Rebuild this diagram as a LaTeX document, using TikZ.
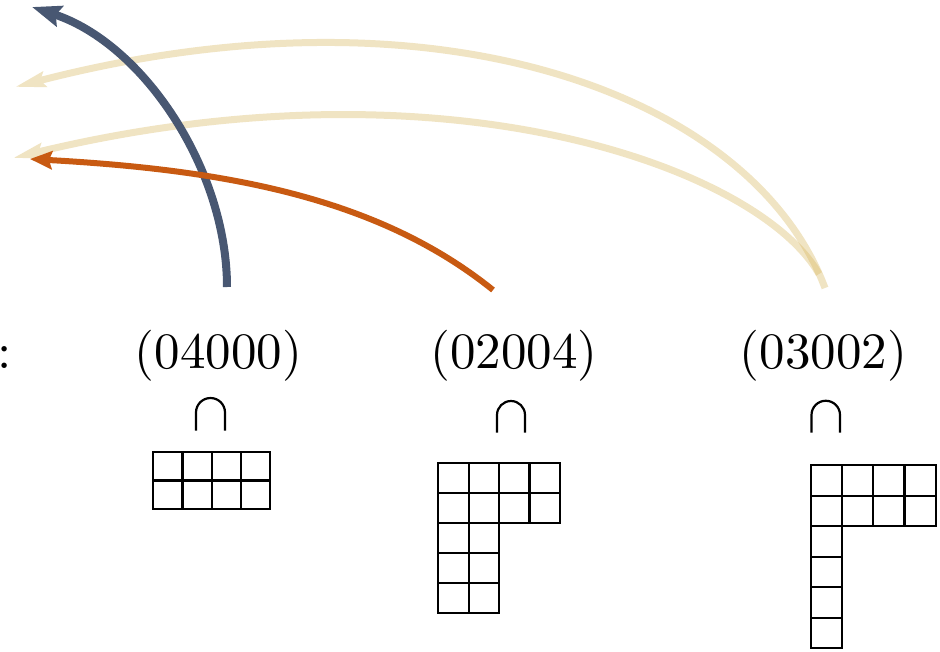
\documentclass[tikz,border=0pt]{standalone}
\usetikzlibrary{arrows.meta}
\definecolor{bluearc}{RGB}{72,87,114}
\definecolor{orangearc}{RGB}{200,90,18}
\definecolor{goldarc}{RGB}{214,180,90}
\font\labelfont=cmr10 at 51pt
\begin{document}
\begin{tikzpicture}[x=1pt,y=-1pt,
  lbl/.style={inner sep=0pt, anchor=base, font=\labelfont},
  cell/.style={draw=black, line width=2.1pt},
  capsym/.style={draw=black, line width=2.2pt},
  goldarrow/.style={draw=goldarc, line width=7pt, -{Stealth[length=30pt,width=15pt,inset=4pt]}},
  goldgroup/.style={transparency group, opacity=0.36},
  bluearrow/.style={draw=bluearc, line width=8pt, -{Stealth[length=29pt,width=21pt,inset=4pt]}},
  orangearrow/.style={draw=orangearc, line width=6pt, -{Stealth[length=22pt,width=18pt,inset=3pt]}}
]
\useasboundingbox (0,0) rectangle (940,651);

% labels
\node[lbl, anchor=base west] (colon) at (-2.5,368) {:};
\node[lbl] (l1) at (218.3,368) {(04000)};
\node[lbl] (l2) at (514,368) {(02004)};
\node[lbl] (l3) at (823.3,368) {(03002)};

% cap symbols
\draw[capsym] (196,430.5) -- (196,412.5) arc[start angle=180, end angle=360, radius=14.5] -- (225,430.5);
\draw[capsym] (497,432.5) -- (497,415) arc[start angle=180, end angle=360, radius=14] -- (525,432.5);
\draw[capsym] (811.5,432.5) -- (811.5,415) arc[start angle=180, end angle=360, radius=14.25] -- (840,432.5);

% Young diagrams
\foreach \c in {0,...,3} \foreach \r in {0,1}
  \draw[cell] ({153.3+29.2*\c},{451.7+28.8*\r}) rectangle +(29.2,28.8);
\foreach \c in {0,...,3} \foreach \r in {0,1}
  \draw[cell] ({438.3+30.4*\c},{463.3+30*\r}) rectangle +(30.4,30);
\foreach \c in {0,1} \foreach \r in {2,3,4}
  \draw[cell] ({438.3+30.4*\c},{463.3+30*\r}) rectangle +(30.4,30);
\foreach \c in {0,...,3} \foreach \r in {0,1}
  \draw[cell] ({810.7+31.25*\c},{465+30.55*\r}) rectangle +(31.25,30.55);
\foreach \r in {2,...,5}
  \draw[cell] (810.7,{465+30.55*\r}) rectangle +(31.25,30.55);

% arc end points
\coordinate (y1s) at (825,288);
\coordinate (y1e) at (15,87);
\coordinate (y2s) at (819,274);
\coordinate (y2e) at (13,158);
\coordinate (bs) at (227,287);
\coordinate (be) at (32,7);
\coordinate (os) at (493,290);
\coordinate (oe) at (30,159);

% arcs
\begin{scope}[goldgroup]
\draw[goldarrow] (y1s) .. controls (753,96) and (440,-23) .. (y1e);
\end{scope}
\begin{scope}[goldgroup]
\draw[goldarrow] (y2s) .. controls (759,169) and (448,53) .. (y2e);
\end{scope}
\draw[bluearrow] (bs) .. controls (227,170) and (144,44) .. (be);
\draw[orangearrow] (os) .. controls (380,199) and (230,170) .. (oe);
\end{tikzpicture}
\end{document}
